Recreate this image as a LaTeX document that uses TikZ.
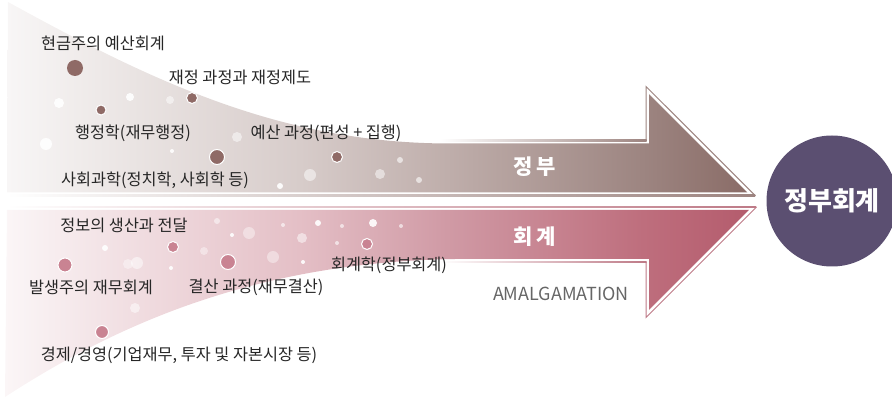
\documentclass[tikz,border=0pt]{standalone}
\usepackage{fontspec}
\setmainfont{Noto Sans CJK KR}
\definecolor{txt}{HTML}{262626}
\definecolor{t0}{HTML}{F8F6F6}
\definecolor{tA}{HTML}{EDE8E7}
\definecolor{tB}{HTML}{D7CCCA}
\definecolor{tC}{HTML}{BFAEAB}
\definecolor{tD}{HTML}{9D8581}
\definecolor{tE}{HTML}{8A6C67}
\definecolor{tOut}{HTML}{9D8480}
\definecolor{b0}{HTML}{FBF6F7}
\definecolor{bA}{HTML}{F3E3E6}
\definecolor{bB}{HTML}{E4BFC6}
\definecolor{bC}{HTML}{D09AA5}
\definecolor{bD}{HTML}{BE6E7D}
\definecolor{bE}{HTML}{B45C6D}
\definecolor{bOut}{HTML}{BE7A87}
\definecolor{dotbrown}{HTML}{8F6A66}
\definecolor{dotpink}{HTML}{C98392}
\definecolor{circ}{HTML}{5B4F71}
\definecolor{amal}{HTML}{666666}
\pgfdeclarehorizontalshading{topshade}{100bp}{color(0bp)=(t0); color(25bp)=(t0); color(31.6bp)=(tA); color(44.8bp)=(tB); color(54.7bp)=(tC); color(67.9bp)=(tD); color(75bp)=(tE); color(100bp)=(tE)}
\pgfdeclarehorizontalshading{botshade}{100bp}{color(0bp)=(b0); color(25bp)=(b0); color(31.6bp)=(bA); color(44.8bp)=(bB); color(54.7bp)=(bC); color(67.9bp)=(bD); color(75bp)=(bE); color(100bp)=(bE)}
\tikzset{
  lbl/.style={font=\fontsize{16.3}{16.3}\selectfont, text=txt, inner sep=0pt},
  arrlbl/.style={font=\fontsize{21}{21}\selectfont\bfseries, text=white, inner sep=0pt},
  outl/.style={line width=1pt, line join=miter},
}
\begin{document}
\begin{tikzpicture}[x=1pt,y=-1pt]
\useasboundingbox (0,0) rectangle (892,398);
% ---- top region (government) ----
\shade[shading=topshade] (8,2) .. controls (150,80) and (280,143.5) .. (450,143.5)
  -- (649,143.5) -- (649,94.2) -- (747.3,192.5) -- (7,192.5) -- cycle;
\shade[left color=white, right color=tOut] (440,140) rectangle (646.5,141.2);
\shade[left color=white, right color=tOut] (7,195) rectangle (755,196.2);
\draw[outl, tOut] (646,141) -- (646,86.5) -- (755.5,195.8);
% ---- bottom region (accounting) ----
\shade[shading=botshade] (7,210) -- (748.8,210) -- (649,309.8) -- (649,259)
  -- (455,259) .. controls (260,262) and (120,322) .. (5,397) -- cycle;
\shade[left color=white, right color=bOut] (7,206.5) rectangle (756,207.7);
\shade[left color=white, right color=bOut] (440,261.5) rectangle (646.5,262.7);
\draw[outl, bOut] (756.5,207) -- (646,317.5) -- (646,262);
% ---- white sparkles ----
\foreach \x/\y/\r/\o in {59/103/5/0.9, 130/97/4/0.9, 170/100/4/0.5, 46/144/6/0.9, 172/151/2/0.9,
  237/137/5/0.5, 310/175/6/0.5, 280/186/3/0.9, 380/174/5/0.5, 400/160/3/0.6, 419/180/3/0.6,
  105/248/3/0.9, 128/264/5/0.4, 137/263/6/0.5, 135/308/5/0.5, 171/268/2/0.9, 204/251/4/0.4,
  217/221/3/0.5, 232/235/2/0.9, 249/233/6/0.4, 273/257/6/0.4, 283/225/2/0.6, 302/238/5/0.5,
  303/262/2/0.9, 318/223/3/0.9, 337/243/2/0.6, 342/226/2/0.6, 373/223/4/0.9, 401/226/2/0.6}
  \fill[white, opacity=\o] (\x,\y) circle (\r);
% ---- coloured dots ----
\fill[dotbrown] (75,68) circle (8);
\foreach \x/\y/\r in {192/98/5.5, 101/110/5, 217/157/7.5, 337/157/5.5}
  \filldraw[fill=dotbrown, draw=white, line width=1pt] (\x,\y) circle (\r);
\foreach \x/\y/\r in {65/265/7, 173/247/5.5, 228/262/7.5, 367/244/5.5, 102/332/6.5}
  \filldraw[fill=dotpink, draw=white, line width=1pt] (\x,\y) circle (\r);
% ---- labels ----
\node[lbl] (t1) at (103,43) {현금주의 예산회계};
\node[lbl] (t2) at (240,77) {재정 과정과 재정제도};
\node[lbl] (t3) at (133,133) {행정학(재무행정)};
\node[lbl] (t4) at (326,133) {예산 과정(편성 + 집행)};
\node[lbl] (t5) at (155,180) {사회과학(정치학, 사회학 등)};
\node[lbl] (b1) at (124,225) {정보의 생산과 전달};
\node[lbl] (b2) at (91,287) {발생주의 재무회계};
\node[lbl] (b3) at (256,287) {결산 과정(재무결산)};
\node[lbl] (b4) at (389,265) {회계학(정부회계)};
\node[lbl] (b5) at (179,355) {경제/경영(기업재무, 투자 및 자본시장 등)};
\node[arrlbl] (gov) at (535,167) {정\hspace{4pt}부};
\node[arrlbl] (acc) at (535,237) {회\hspace{4pt}계};
\node[font=\fontsize{18}{18}\selectfont, text=amal, inner sep=0pt] (amg) at (561,294) {AMALGAMATION};
\node[circle, fill=circ, minimum size=131pt, inner sep=0pt,
  font=\fontsize{26}{26}\selectfont\bfseries, text=white] (res) at (832,201) {정부회계};
\end{tikzpicture}
\end{document}
